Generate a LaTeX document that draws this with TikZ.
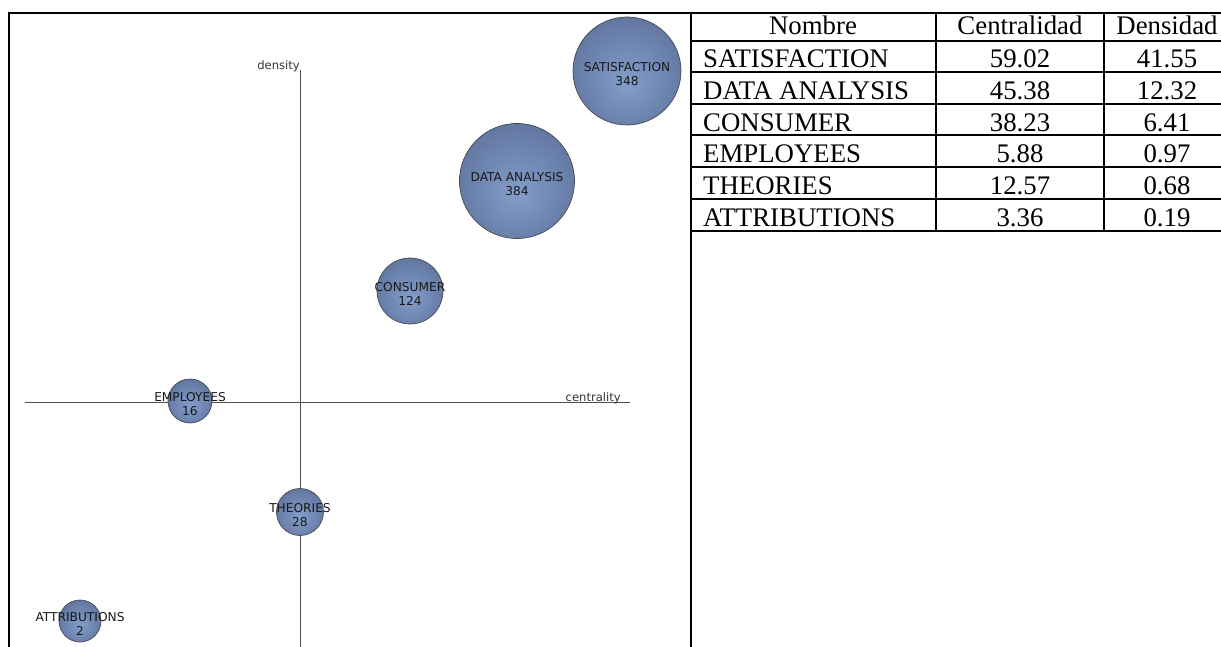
\documentclass[tikz,border=0pt]{standalone}
\usepackage{fontspec}
\setmainfont{Liberation Serif}
\newfontfamily\plotfont{DejaVu Sans}
\usetikzlibrary{positioning}
\definecolor{bubhi}{RGB}{132,157,202}
\definecolor{bubmid}{RGB}{100,122,164}
\definecolor{bubedge}{RGB}{66,78,104}
\definecolor{bubrim}{RGB}{70,74,84}
\definecolor{axisgray}{RGB}{80,80,80}
\pgfdeclareradialshading{bubble}{\pgfpoint{0bp}{-6bp}}{color(0bp)=(bubhi); color(26bp)=(bubmid); color(46bp)=(bubedge); color(50bp)=(bubedge)}
\tikzset{
bubble/.style={circle, draw=bubrim, line width=0.7pt, shading=bubble, inner sep=0pt}, % the shaded spheres
bublabel/.style={font=\plotfont\fontsize{12.2}{14}\selectfont, text=black!90, align=center, inner sep=0pt, yshift=-3pt}, % name and count
axisline/.style={draw=axisgray, line width=1pt},
axislabel/.style={font=\plotfont\fontsize{11.6}{14}\selectfont, text=black!80, inner sep=0pt},
frameline/.style={line width=2pt, black}, % borders of the layout and the table
cell/.style={font=\fontsize{26.8}{30}\selectfont, inner sep=0pt, anchor=base},
}
\begin{document}
\begin{tikzpicture}[x=1pt, y=-1pt]
                \useasboundingbox (0,0) rectangle (1221,647);
                % axes
                \coordinate (xl) at (25,402);
                \coordinate (xr) at (630,402);
                \coordinate (yt) at (300,70);
                \coordinate (yb) at (300,647);
                \draw[axisline] (xl) -- (xr);
                \draw[axisline] (yt) -- (yb);
                \node[axislabel, anchor=base east] (dens) at (300,70) {density};
                \node[axislabel, anchor=base east] (cent) at (621,401) {centrality};

                % themes
                \node[bubble, minimum size=108pt] (sat) at (627,71) {};
                \node[bubble, minimum size=115pt] (data) at (517,181) {};
                \node[bubble, minimum size=66pt] (cons) at (410,291) {};
                \node[bubble, minimum size=44pt] (empl) at (190,401) {};
                \node[bubble, minimum size=47pt] (theo) at (300,512) {};
                \node[bubble, minimum size=42pt] (attr) at (80,621) {};
                \node[bublabel] (sat-l) at (sat) {SATISFACTION\\348};
                \node[bublabel] (data-l) at (data) {DATA ANALYSIS\\384};
                \node[bublabel] (cons-l) at (cons) {CONSUMER\\124};
                \node[bublabel] (empl-l) at (empl) {EMPLOYEES\\16};
                \node[bublabel] (theo-l) at (theo) {THEORIES\\28};
                \node[bublabel] (attr-l) at (attr) {ATTRIBUTIONS\\2};

                % frame and table
                \draw[frameline] (8.5,647) -- (8.5,13.5) -- (1221,13.5);
                \draw[frameline] (690.5,13.5) -- (690.5,647);
                \draw[frameline] (936,13.5) -- (936,231);
                \draw[frameline] (1104,13.5) -- (1104,231);
                \foreach \y in {41,72.5,104,135.5,167,199,231}
                    \draw[frameline] (690.5,\y) -- (1221,\y);
                \node[cell] (h1) at (813,35) {Nombre};
                \node[cell] (h2) at (1020,35) {Centralidad};
                \node[cell] (h3) at (1167,35) {Densidad};
                \foreach \nm/\cen/\den [count=\i] in {SATISFACTION/59.02/41.55, DATA ANALYSIS/45.38/12.32, CONSUMER/38.23/6.41, EMPLOYEES/5.88/0.97, THEORIES/12.57/0.68, ATTRIBUTIONS/3.36/0.19} {
                    \node[cell, anchor=base west] (nm\i) at (703,{68+31.6*(\i-1)}) {\nm};
                    \node[cell] (cen\i) at (1020,{68+31.6*(\i-1)}) {\cen};
                    \node[cell] (den\i) at (1167,{68+31.6*(\i-1)}) {\den};
                }
            \end{tikzpicture}
\end{document}
